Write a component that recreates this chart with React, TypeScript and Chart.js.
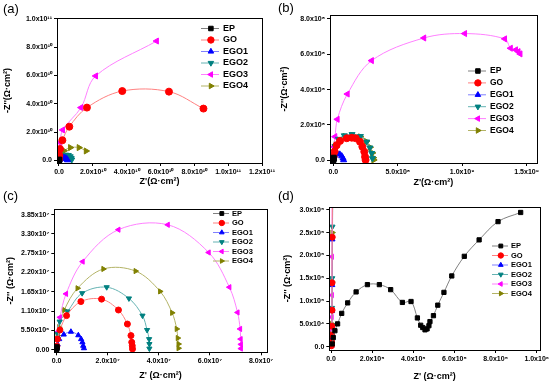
import React, { useEffect, useRef } from 'react';
import { Chart, registerables } from 'chart.js';
import { drawPoint } from 'chart.js/helpers';

Chart.register(...registerables);

const FONT = '"Liberation Sans", Arial, sans-serif';

const SERIES = ['EP', 'GO', 'EGO1', 'EGO2', 'EGO3', 'EGO4'];
const MARKER_COLORS = ['#000000', '#ff0000', '#0000ff', '#008080', '#ff00ff', '#808000'];
const LINE_COLORS = ['#808080', '#ff8080', '#8080ff', '#66b3b3', '#ff80ff', '#b3b366'];
const POINT_STYLES = ['rect', 'circle', 'triangle', 'triangle', 'triangle', 'triangle'];
const POINT_ROTATIONS = [0, 0, 0, 180, 270, 90];

type Pt = [number, number];

// Panel (a) — units of 1e10
const A_EP: Pt[] = [[0.003, 0.005], [0.006, 0.015], [0.01, 0.03], [0.015, 0.05]];
const A_GO: Pt[] = [[0.005, 0.1], [0.02, 0.35], [0.06, 0.8], [0.2, 1.42], [0.61, 2.38], [1.65, 3.73], [3.74, 4.9], [6.5, 4.86], [8.54, 3.66]];
const A_EGO1: Pt[] = [[0.02, 0.02], [0.1, 0.1], [0.2, 0.17], [0.3, 0.19], [0.4, 0.15], [0.47, 0.08], [0.5, 0.02]];
const A_EGO2: Pt[] = [[0.02, 0.05], [0.1, 0.17], [0.25, 0.3], [0.4, 0.38], [0.55, 0.36], [0.66, 0.27], [0.72, 0.15], [0.75, 0.04]];
const A_EGO3: Pt[] = [[0.005, 0.2], [0.02, 0.78], [0.06, 1.25], [0.22, 2.15], [1.3, 3.73], [2.17, 5.97], [5.77, 8.44]];
const A_EGO4: Pt[] = [[0.01, 0.05], [0.03, 0.2], [0.1, 0.42], [0.3, 0.68], [0.67, 0.9], [1.18, 0.9], [1.6, 0.66]];
const A_XTICKS = [0, 2, 4, 6, 8, 10, 12];
const A_YTICKS = [0, 2, 4, 6, 8, 10];

// Panel (b) — units of 1e8
const B_EP: Pt[] = [[0.005, 0.01], [0.01, 0.05], [0.02, 0.1], [0.03, 0.15]];
const B_GO: Pt[] = [[0.02, 0.2], [0.1, 0.5], [0.25, 0.85], [0.52, 1.1], [1.04, 1.25], [1.43, 1.28], [1.74, 1.25], [2.07, 1.05], [2.25, 0.77], [2.4, 0.49], [2.46, 0.2], [2.5, 0.02]];
const B_EGO1: Pt[] = [[0.01, 0.08], [0.05, 0.25], [0.15, 0.36], [0.3, 0.4], [0.5, 0.34], [0.65, 0.24], [0.75, 0.12], [0.8, 0.02]];
const B_EGO2: Pt[] = [[0.02, 0.3], [0.13, 0.8], [0.4, 1.2], [0.85, 1.4], [1.45, 1.47], [2.1, 1.36], [2.59, 1.05], [2.84, 0.71], [2.98, 0.4], [3.03, 0.11]];
const B_EGO3: Pt[] = [[0.01, 0.1], [0.05, 0.77], [0.13, 1.34], [0.31, 2.32], [1.09, 3.75], [2.97, 5.64], [7.03, 6.92], [10.2, 7.17], [13.3, 6.87], [13.75, 6.34], [14.15, 6.25], [14.35, 6.15], [14.5, 6.02]];
const B_EGO4: Pt[] = [[0.02, 0.2], [0.08, 0.55], [0.2, 0.9], [0.45, 1.15], [0.9, 1.35], [1.5, 1.42], [2.1, 1.33], [2.55, 1.07], [2.85, 0.74], [3.03, 0.42], [3.1, 0.15], [3.13, 0.02]];
const B_XTICKS = [0, 5, 10, 15];
const B_YTICKS = [0, 2, 4, 6, 8];

// Panel (c) — units of 1e7
const C_EP: Pt[] = [[0.005, 0.005], [0.01, 0.02], [0.015, 0.05], [0.02, 0.08]];
const C_GO: Pt[] = [[0.01, 0.1], [0.03, 0.3], [0.13, 0.56], [0.39, 0.97], [0.95, 1.37], [1.76, 1.44], [2.42, 1.13], [2.77, 0.73], [2.91, 0.4], [2.94, 0.21], [2.96, 0.11], [2.97, 0.02]];
const C_EGO1: Pt[] = [[0.01, 0.05], [0.04, 0.15], [0.1, 0.3], [0.28, 0.43], [0.56, 0.51], [0.85, 0.41], [0.96, 0.3], [1.01, 0.21], [1.04, 0.11], [1.07, 0.04]];
const C_EGO2: Pt[] = [[0.01, 0.1], [0.04, 0.45], [0.12, 0.8], [0.43, 1.09], [1.0, 1.61], [1.96, 1.78], [2.83, 1.46], [3.36, 0.97], [3.54, 0.56], [3.62, 0.3], [3.63, 0.16], [3.63, 0.03]];
const C_EGO3: Pt[] = [[0.01, 0.1], [0.03, 0.5], [0.13, 0.92], [0.37, 1.59], [1.02, 2.51], [2.42, 3.42], [4.35, 3.56], [5.95, 2.77], [6.76, 1.78], [7.08, 1.06], [7.18, 0.59], [7.2, 0.3], [7.21, 0.15], [7.21, 0.03]];
const C_EGO4: Pt[] = [[0.01, 0.1], [0.04, 0.4], [0.1, 0.64], [0.3, 1.13], [0.82, 1.75], [1.83, 2.3], [3.09, 2.24], [4.05, 1.66], [4.52, 1.05], [4.7, 0.59], [4.74, 0.33], [4.77, 0.16], [4.77, 0.04]];
const C_XTICKS = [0, 2, 4, 6, 8];
const C_YTICKS = [0, 0.55, 1.1, 1.65, 2.2, 2.75, 3.3, 3.85];

// Panel (d) — units of 1e5
const D_EP: Pt[] = [[0.06, 0.06], [0.11, 0.2], [0.19, 0.35], [0.32, 0.5], [0.52, 0.73], [0.81, 0.96], [1.22, 1.2], [1.77, 1.36], [2.35, 1.36], [2.9, 1.25], [3.47, 0.97], [3.89, 0.99], [4.2, 0.63], [4.36, 0.47], [4.46, 0.42], [4.57, 0.37], [4.67, 0.39], [4.76, 0.46], [4.81, 0.55], [4.98, 0.68], [5.19, 0.91], [5.49, 1.19], [5.87, 1.55], [6.48, 1.98], [7.2, 2.34], [8.12, 2.74], [9.22, 2.94]];
const D_GO: Pt[] = [[0.02, 0.02], [0.03, 0.1], [0.04, 0.25], [0.04, 0.45], [0.05, 0.8], [0.05, 1.4], [0.06, 2.4], [0.08, 4.0]];
const D_EGO1: Pt[] = [[0.02, 0.02], [0.03, 0.15], [0.04, 0.45], [0.05, 0.78], [0.06, 1.35], [0.07, 2.35], [0.09, 4.0]];
const D_EGO2: Pt[] = [[0.02, 0.03], [0.03, 0.2], [0.04, 0.47], [0.05, 0.85], [0.06, 1.5], [0.07, 2.63], [0.09, 4.0]];
const D_EGO3: Pt[] = [[0.01, 0.02], [0.02, 0.1], [0.02, 0.2], [0.03, 0.37], [0.03, 0.65], [0.04, 1.13], [0.04, 1.97], [0.06, 3.5]];
const D_EGO4: Pt[] = [[0.02, 0.02], [0.03, 0.12], [0.04, 0.3], [0.05, 0.5], [0.05, 0.82], [0.06, 1.42], [0.07, 2.5], [0.09, 4.0]];
const D_XTICKS = [0, 2, 4, 6, 8, 10];
const D_YTICKS = [0, 0.5, 1, 1.5, 2, 2.5, 3];

const SUP: Record<string, string> = { '0': '⁰', '1': '¹', '2': '²', '3': '³', '4': '⁴', '5': '⁵', '6': '⁶', '7': '⁷', '8': '⁸', '9': '⁹', '-': '⁻' };
function sci(v: number, dec: number): string {
  if (Math.abs(v) < 1e-12) return (0).toFixed(dec);
  const e = Math.floor(Math.log10(Math.abs(v)) + 1e-9);
  const m = v / Math.pow(10, e);
  return m.toFixed(dec) + 'x10' + String(e).split('').map((c) => SUP[c]).join('');
}

interface Panel {
  label: string; left: number; top: number; labelTop: number;
  series: Pt[][];
  xUnit: number; yUnit: number; xDec: number; yDec: number;
  xTicks: number[]; yTicks: number[];
  xMin: number; xMax: number; yMin: number; yMax: number;
  padTop: number; padRight: number; yWidth: number; xHeight: number;
  xTitle: string; yTitle: string; yTitlePad: number; xTitlePad: number;
  legend: { x: number; y: number; dy: number; lineLen: number; size: number; r: number; gap: number };
  r: number;
}

const PANELS: Panel[] = [
  {
    label: '(a)', left: 0, top: 0, labelTop: 1,
    series: [A_EP, A_GO, A_EGO1, A_EGO2, A_EGO3, A_EGO4],
    xUnit: 1e10, yUnit: 1e10, xDec: 1, yDec: 1, xTicks: A_XTICKS, yTicks: A_YTICKS,
    xMin: -0.118, xMax: 12, yMin: -0.19, yMax: 10.07,
    padTop: 18, padRight: 13, yWidth: 57, xHeight: 31,
    xTitle: "Z'(Ω·cm²)", yTitle: "-Z''(Ω·cm²)", yTitlePad: 2.6, xTitlePad: 6.6,
    legend: { x: 201, y: 28.5, dy: 11.5, lineLen: 18, size: 9, r: 3.2, gap: 4 }, r: 3.5,
  },
  {
    label: '(b)', left: 275, top: 0, labelTop: 0,
    series: [B_EP, B_GO, B_EGO1, B_EGO2, B_EGO3, B_EGO4],
    xUnit: 1e8, yUnit: 1e8, xDec: 1, yDec: 1, xTicks: B_XTICKS, yTicks: B_YTICKS,
    xMin: -0.26, xMax: 15.78, yMin: -0.15, yMax: 8.22,
    padTop: 15, padRight: 13.3, yWidth: 55, xHeight: 31,
    xTitle: "Z'(Ω·cm²)", yTitle: "-Z''(Ω·cm²)", yTitlePad: 4.6, xTitlePad: 6,
    legend: { x: 193, y: 71, dy: 11.9, lineLen: 18, size: 8.5, r: 3.2, gap: 4 }, r: 3.5,
  },
  {
    label: '(c)', left: 0, top: 194, labelTop: -6,
    series: [C_EP, C_GO, C_EGO1, C_EGO2, C_EGO3, C_EGO4],
    xUnit: 1e7, yUnit: 1e7, xDec: 1, yDec: 2, xTicks: C_XTICKS, yTicks: C_YTICKS,
    xMin: -0.09, xMax: 8.22, yMin: -0.076, yMax: 4.01,
    padTop: 15, padRight: 8.3, yWidth: 54.3, xHeight: 35.7,
    xTitle: "Z' (Ω·cm²)", yTitle: "-Z'' (Ω·cm²)", yTitlePad: 5.6, xTitlePad: 6.9,
    legend: { x: 213, y: 19.5, dy: 9.5, lineLen: 16, size: 7.5, r: 2.7, gap: 3 }, r: 3,
  },
  {
    label: '(d)', left: 275, top: 194, labelTop: -6,
    series: [D_EP, D_GO, D_EGO1, D_EGO2, D_EGO3, D_EGO4],
    xUnit: 1e5, yUnit: 1e5, xDec: 1, yDec: 1, xTicks: D_XTICKS, yTicks: D_YTICKS,
    xMin: -0.083, xMax: 10.16, yMin: -0.072, yMax: 3.06,
    padTop: 13, padRight: 10, yWidth: 54.3, xHeight: 38,
    xTitle: "Z' (Ω·cm²)", yTitle: "-Z'' (Ω·cm²)", yTitlePad: 7.6, xTitlePad: 6,
    legend: { x: 217, y: 52, dy: 9.5, lineLen: 16, size: 7.5, r: 2.7, gap: 3 }, r: 3,
  },
];

const framePlugin = {
  id: 'frameBox',
  afterDatasetsDraw(chart: any) {
    const { ctx, chartArea } = chart;
    ctx.save();
    ctx.strokeStyle = '#000';
    ctx.lineWidth = 1;
    const l = Math.round(chartArea.left) + 0.5;
    const t = Math.round(chartArea.top) + 0.5;
    const r = Math.round(chartArea.right) + 0.5;
    const b = Math.round(chartArea.bottom) + 0.5;
    ctx.strokeRect(l, t, r - l, b - t);
    ctx.restore();
  },
};

const insideLegend = {
  id: 'insideLegend',
  afterDraw(chart: any, _args: any, opts: any) {
    const ctx = chart.ctx;
    chart.data.datasets.forEach((ds: any, i: number) => {
      const y = opts.y + i * opts.dy;
      ctx.save();
      ctx.strokeStyle = ds.borderColor;
      ctx.lineWidth = 1;
      ctx.beginPath();
      ctx.moveTo(opts.x, y);
      ctx.lineTo(opts.x + opts.lineLen, y);
      ctx.stroke();
      ctx.fillStyle = ds.pointBackgroundColor;
      ctx.strokeStyle = ds.pointBorderColor;
      drawPoint(ctx, { pointStyle: ds.pointStyle, rotation: ds.pointRotation, radius: opts.r, borderWidth: 1 } as any, opts.x + opts.lineLen * 0.55, y);
      ctx.fillStyle = '#000';
      ctx.font = `bold ${opts.size}px ${FONT}`;
      ctx.textBaseline = 'middle';
      ctx.textAlign = 'left';
      ctx.fillText(ds.label, opts.x + opts.lineLen + opts.gap, y);
      ctx.restore();
    });
  },
};

function PanelChart({ p }: { p: Panel }) {
  const ref = useRef<HTMLCanvasElement>(null);
  useEffect(() => {
    const tickFont = { family: FONT, size: 7, weight: 'bold' as const };
    const titleFont = { family: FONT, size: 9, weight: 'bold' as const };
    const chart = new Chart(ref.current as HTMLCanvasElement, {
      type: 'scatter',
      data: {
        datasets: p.series.map((pts, i) => ({
          label: SERIES[i],
          data: pts.map(([x, y]) => ({ x, y })),
          showLine: true,
          borderColor: LINE_COLORS[i],
          borderWidth: 1,
          tension: 0.35,
          pointStyle: POINT_STYLES[i] as any,
          pointRotation: POINT_ROTATIONS[i],
          pointRadius: p.r,
          pointBackgroundColor: MARKER_COLORS[i],
          pointBorderColor: MARKER_COLORS[i],
          pointBorderWidth: 1,
        })),
      },
      options: {
        responsive: false,
        animation: false,
        events: [],
        layout: { padding: { top: p.padTop, right: p.padRight, left: 0, bottom: 0 } },
        plugins: {
          legend: { display: false },
          tooltip: { enabled: false },
          insideLegend: p.legend,
        } as any,
        scales: {
          x: {
            type: 'linear',
            min: p.xMin, max: p.xMax,
            afterBuildTicks: (s: any) => { s.ticks = p.xTicks.map((v) => ({ value: v })); },
            afterFit: (s: any) => { s.height = p.xHeight; s.paddingLeft = 0; s.paddingRight = 0; },
            ticks: {
              autoSkip: false, maxRotation: 0, minRotation: 0, padding: 2,
              color: '#000', font: tickFont,
              callback: (v: any) => sci(Number(v) * p.xUnit, p.xDec),
            },
            grid: { display: true, drawOnChartArea: false, drawTicks: true, tickLength: 3, color: '#000', tickColor: '#000' },
            border: { display: true, color: '#000', width: 1 },
            title: { display: true, text: p.xTitle, color: '#000', font: titleFont, padding: { top: 0, bottom: p.xTitlePad } },
          },
          y: {
            type: 'linear',
            min: p.yMin, max: p.yMax,
            afterBuildTicks: (s: any) => { s.ticks = p.yTicks.map((v) => ({ value: v })); },
            afterFit: (s: any) => { s.width = p.yWidth; s.paddingTop = 0; s.paddingBottom = 0; },
            ticks: {
              autoSkip: false, padding: 2,
              color: '#000', font: tickFont,
              callback: (v: any) => sci(Number(v) * p.yUnit, p.yDec),
            },
            grid: { display: true, drawOnChartArea: false, drawTicks: true, tickLength: 3, color: '#000', tickColor: '#000' },
            border: { display: true, color: '#000', width: 1 },
            title: { display: true, text: p.yTitle, color: '#000', font: titleFont, padding: { top: p.yTitlePad, bottom: 0 } },
          },
        },
      } as any,
      plugins: [framePlugin, insideLegend],
    });
    return () => chart.destroy();
  }, []);
  return (
    <div style={{ position: 'absolute', left: p.left, top: p.top, width: 275, height: 194 }}>
      <canvas ref={ref} width={275} height={194} style={{ width: 275, height: 194, display: 'block' }} />
      <div style={{ position: 'absolute', left: 3, top: p.labelTop, fontFamily: FONT, fontSize: 13, color: '#000', lineHeight: '15px' }}>{p.label}</div>
    </div>
  );
}

export default function App() {
  return (
    <div style={{ position: 'absolute', left: 0, top: 0, width: 550, height: 388, background: '#fff', overflow: 'hidden' }}>
      {PANELS.map((p) => <PanelChart key={p.label} p={p} />)}
    </div>
  );
}
